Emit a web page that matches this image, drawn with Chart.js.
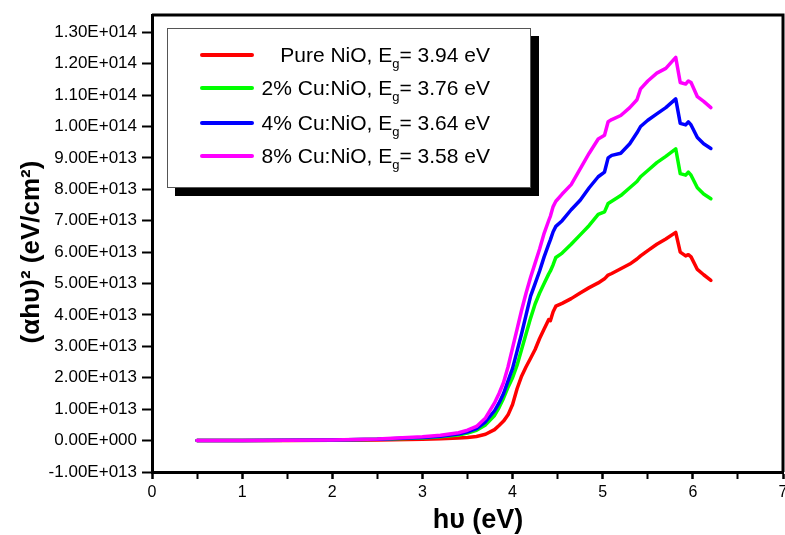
<!DOCTYPE html>
<html>
<head>
<meta charset="utf-8">
<script src="https://cdn.jsdelivr.net/npm/chart.js@4/dist/chart.umd.min.js"></script>
<style>
html,body{margin:0;padding:0;background:#fff;}
#wrap{position:relative;width:785px;height:535px;}
#legend{position:absolute;left:167px;top:28px;width:362px;height:158px;border:1px solid #555;background:#fff;box-shadow:8px 8px 0 #000;font-family:"Liberation Sans",Arial,sans-serif;}
.row{position:absolute;left:0;height:30px;width:322px;}
.row .ln{position:absolute;left:32px;top:13px;width:54px;height:4px;border-radius:2px;}
.row .tx{position:absolute;right:0;top:0;line-height:30px;font-size:21px;white-space:nowrap;color:#000;}
.tx sub{font-size:13px;vertical-align:-6px;line-height:0;}
</style>
</head>
<body>
<div id="wrap">
<canvas id="c" width="785" height="535"></canvas>
<div id="legend"></div>
</div>
<script>
// ---- data ----
const energy = [0.5, 1.0, 1.5, 2.0, 2.5, 3.0, 3.2, 3.4, 3.5, 3.6,
  3.7, 3.8, 3.85, 3.9, 3.95, 4.0, 4.05, 4.1, 4.15, 4.2,
  4.25, 4.3, 4.35, 4.4, 4.42, 4.45, 4.48, 4.55, 4.65, 4.75,
  4.85, 4.95, 5.02, 5.06, 5.1, 5.2, 5.3, 5.38, 5.42, 5.5,
  5.6, 5.7, 5.81, 5.86, 5.92, 5.95, 5.98, 6.05, 6.12, 6.2];

const pureNiO = [0, 0.003e13, 0.006e13, 0.01e13, 0.02e13, 0.04e13, 0.06e13, 0.08e13, 0.1e13, 0.13e13,
  0.2e13, 0.35e13, 0.48e13, 0.62e13, 0.82e13, 1.15e13, 1.65e13, 2.05e13, 2.35e13, 2.62e13,
  2.9e13, 3.25e13, 3.55e13, 3.85e13, 3.82e13, 4.1e13, 4.28e13, 4.37e13, 4.52e13, 4.7e13,
  4.87e13, 5.02e13, 5.15e13, 5.27e13, 5.32e13, 5.47e13, 5.62e13, 5.78e13, 5.88e13, 6.05e13,
  6.25e13, 6.42e13, 6.63e13, 6.0e13, 5.88e13, 5.92e13, 5.85e13, 5.45e13, 5.28e13, 5.1e13];

const cu2NiO = [0, 0.005e13, 0.01e13, 0.02e13, 0.04e13, 0.08e13, 0.12e13, 0.18e13, 0.24e13, 0.33e13,
  0.5e13, 0.8e13, 1.05e13, 1.35e13, 1.7e13, 2.0e13, 2.4e13, 2.9e13, 3.4e13, 3.9e13,
  4.35e13, 4.7e13, 5.0e13, 5.3e13, 5.4e13, 5.6e13, 5.83e13, 5.97e13, 6.25e13, 6.55e13,
  6.85e13, 7.2e13, 7.28e13, 7.55e13, 7.62e13, 7.8e13, 8.05e13, 8.25e13, 8.4e13, 8.6e13,
  8.85e13, 9.05e13, 9.29e13, 8.5e13, 8.45e13, 8.55e13, 8.45e13, 8.05e13, 7.85e13, 7.7e13];

const cu4NiO = [0, 0.005e13, 0.01e13, 0.02e13, 0.04e13, 0.1e13, 0.14e13, 0.21e13, 0.28e13, 0.38e13,
  0.6e13, 0.95e13, 1.2e13, 1.5e13, 1.9e13, 2.3e13, 2.85e13, 3.4e13, 4.0e13, 4.6e13,
  5.0e13, 5.4e13, 5.85e13, 6.25e13, 6.4e13, 6.65e13, 6.82e13, 7.0e13, 7.35e13, 7.65e13,
  8.05e13, 8.4e13, 8.55e13, 9.0e13, 9.08e13, 9.15e13, 9.45e13, 9.8e13, 10.0e13, 10.2e13,
  10.4e13, 10.6e13, 10.88e13, 10.1e13, 10.05e13, 10.15e13, 10.05e13, 9.65e13, 9.45e13, 9.3e13];

const cu8NiO = [0, 0.005e13, 0.01e13, 0.02e13, 0.05e13, 0.12e13, 0.17e13, 0.25e13, 0.33e13, 0.45e13,
  0.72e13, 1.2e13, 1.5e13, 1.85e13, 2.35e13, 2.95e13, 3.55e13, 4.15e13, 4.7e13, 5.2e13,
  5.65e13, 6.1e13, 6.6e13, 7.0e13, 7.15e13, 7.45e13, 7.62e13, 7.85e13, 8.15e13, 8.65e13,
  9.15e13, 9.6e13, 9.72e13, 10.15e13, 10.22e13, 10.35e13, 10.6e13, 10.85e13, 11.2e13, 11.45e13,
  11.7e13, 11.85e13, 12.2e13, 11.4e13, 11.35e13, 11.45e13, 11.4e13, 10.95e13, 10.8e13, 10.6e13];

const seriesNames = ['Pure NiO', '2% Cu:NiO', '4% Cu:NiO', '8% Cu:NiO'];
const bandGaps = ['3.94', '3.76', '3.64', '3.58'];
const seriesColors = ['#ff0000', '#00ff00', '#0000ff', '#ff00ff'];
const xTitle = 'h\u03c5 (eV)';
const yTitle = '(\u03b1h\u03c5)\u00b2 (eV/cm\u00b2)';
const xTickValues = [0, 0.5, 1, 1.5, 2, 2.5, 3, 3.5, 4, 4.5, 5, 5.5, 6, 6.5, 7];
const yTickValues = [-1e13, 0, 1e13, 2e13, 3e13, 4e13, 5e13, 6e13, 7e13, 8e13, 9e13, 1e14, 1.1e14, 1.2e14, 1.3e14];
const xMin = 0, xMax = 7;
const yMin = -1e13, yMax = 1.355e14;

// ---- chart ----
const FAMILY = '"Liberation Sans", Arial, sans-serif';
const allSeries = [pureNiO, cu2NiO, cu4NiO, cu8NiO];
const datasets = allSeries.map((arr, k) => ({
  label: seriesNames[k],
  data: energy.map((x, i) => ({x: x, y: arr[i]})),
  borderColor: seriesColors[k],
  backgroundColor: seriesColors[k],
  order: 3 - k
}));

function sci(v) {
  v = Math.round(v / 1e11) * 1e11;
  if (Math.abs(v) < 1) return '0.00E+000';
  const e = Math.floor(Math.log10(Math.abs(v)) + 1e-9);
  const m = v / Math.pow(10, e);
  return m.toFixed(2) + 'E+' + String(e).padStart(3, '0');
}
const isWhole = v => Math.abs(v - Math.round(v)) < 1e-6;

const frameAndTitles = {
  id: 'frameAndTitles',
  afterDraw(chart) {
    const {ctx, chartArea: a} = chart;
    ctx.save();
    ctx.strokeStyle = '#000';
    ctx.lineWidth = 3;
    ctx.beginPath();
    ctx.moveTo(a.left, a.top);
    ctx.lineTo(a.right, a.top);
    ctx.lineTo(a.right, a.bottom);
    ctx.stroke();
    ctx.fillStyle = '#000';
    ctx.textAlign = 'center';
    ctx.textBaseline = 'middle';
    ctx.font = 'bold 27px ' + FAMILY;
    ctx.fillText(xTitle, 478, 521);
    ctx.translate(32, 252);
    ctx.rotate(-Math.PI / 2);
    ctx.font = 'bold 26px ' + FAMILY;
    ctx.fillText(yTitle, 0, 0);
    ctx.restore();
  }
};

new Chart(document.getElementById('c'), {
  type: 'line',
  data: {datasets},
  options: {
    responsive: false,
    animation: false,
    devicePixelRatio: 1,
    layout: {padding: {top: 15, right: 2, left: 0, bottom: 0}},
    plugins: {legend: {display: false}, tooltip: {enabled: false}},
    elements: {
      point: {radius: 0},
      line: {borderWidth: 3.5, tension: 0, borderCapStyle: 'round', borderJoinStyle: 'round'}
    },
    scales: {
      x: {
        type: 'linear', min: xMin, max: xMax,
        afterBuildTicks(s) { s.ticks = xTickValues.map(v => ({value: v})); },
        afterFit(s) { s.height = 63; s.paddingLeft = 0; s.paddingRight = 0; },
        ticks: {
          autoSkip: false, maxRotation: 0, padding: 4, color: '#000',
          font: {family: FAMILY, size: 16},
          callback: v => isWhole(v) ? String(Math.round(v)) : ''
        },
        grid: {
          drawOnChartArea: false, drawTicks: true, tickLength: 7, color: '#000',
          tickWidth: c => (c.tick && isWhole(c.tick.value)) ? 2.5 : 2
        },
        border: {display: true, color: '#000', width: 3},
        title: {display: false}
      },
      y: {
        type: 'linear', min: yMin, max: yMax,
        afterBuildTicks(s) { s.ticks = yTickValues.map(v => ({value: v})); },
        afterFit(s) { s.width = 152; s.paddingTop = 0; s.paddingBottom = 0; },
        ticks: {
          autoSkip: false, padding: 5, color: '#000',
          font: {family: FAMILY, size: 17},
          callback: v => sci(v)
        },
        grid: {drawOnChartArea: false, drawTicks: true, tickLength: 10, color: '#000', tickWidth: 2},
        border: {display: true, color: '#000', width: 3},
        title: {display: false}
      }
    }
  },
  plugins: [frameAndTitles]
});

// ---- legend (HTML text) ----
const legend = document.getElementById('legend');
const rowTops = [11, 44, 79, 112];
seriesNames.forEach((name, k) => {
  const row = document.createElement('div');
  row.className = 'row';
  row.style.top = rowTops[k] + 'px';
  const ln = document.createElement('div');
  ln.className = 'ln';
  ln.style.background = seriesColors[k];
  const tx = document.createElement('span');
  tx.className = 'tx';
  tx.innerHTML = name + ', E<sub>g</sub>= ' + bandGaps[k] + ' eV';
  row.appendChild(ln);
  row.appendChild(tx);
  legend.appendChild(row);
});
</script>
</body>
</html>
